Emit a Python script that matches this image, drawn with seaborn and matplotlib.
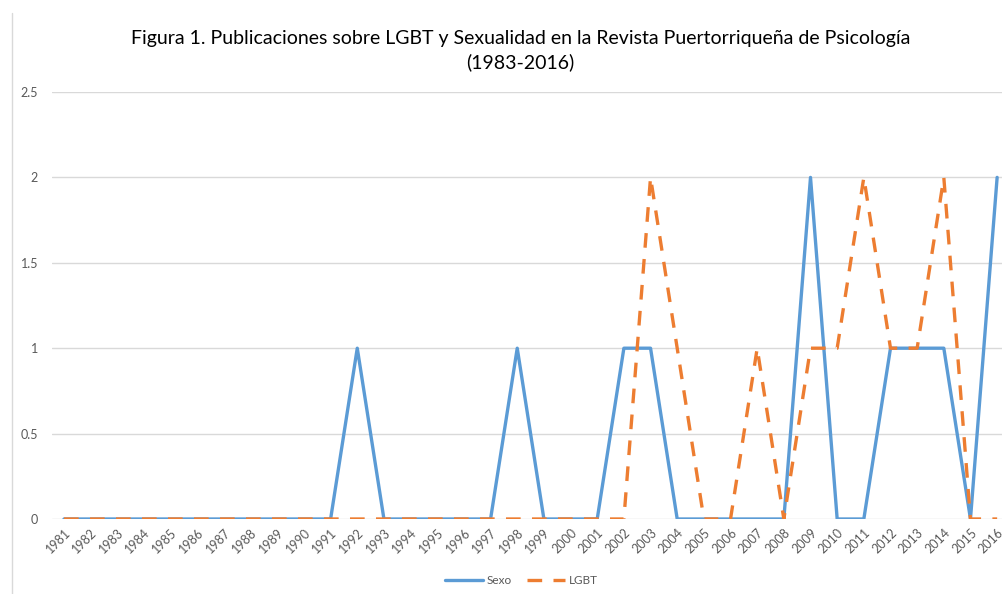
import pandas as pd
import seaborn as sns
import matplotlib.pyplot as plt
from matplotlib.lines import Line2D

sns.set_theme(style="white")
plt.rcParams["font.family"] = ["Lato", "DejaVu Sans"]

years = [str(y) for y in range(1981, 2017)]
sexo = [0, 0, 0, 0, 0, 0, 0, 0, 0, 0, 0, 1, 0, 0, 0, 0, 0, 1, 0, 0,
        0, 1, 1, 0, 0, 0, 0, 0, 2, 0, 0, 1, 1, 1, 0, 2]
lgbt = [0, 0, 0, 0, 0, 0, 0, 0, 0, 0, 0, 0, 0, 0, 0, 0, 0, 0, 0, 0,
        0, 0, 2, 1, 0, 0, 1, 0, 1, 1, 2, 1, 1, 2, 0, 0]

df = pd.DataFrame({"year": years, "Sexo": sexo, "LGBT": lgbt})
long = df.melt(id_vars="year", var_name="serie", value_name="n")
long["x"] = long.groupby("serie").cumcount()

blue = "#5B9BD5"
orange = "#ED7D31"
grey = "#595959"

fig = plt.figure(figsize=(10.03, 5.94), dpi=100)
ax = fig.add_axes([52 / 1003, 75 / 594, 951 / 1003, 427 / 594])

sns.lineplot(data=long, x="x", y="n", hue="serie", style="serie",
             palette={"Sexo": blue, "LGBT": orange},
             dashes={"Sexo": "", "LGBT": (4.4, 3.4)},
             linewidth=2.4, ax=ax, legend=False)

ax.set_xlim(-0.45, 35.22)
ax.set_ylim(0, 2.5)
ax.set_xticks(range(len(years)))
ax.set_xticklabels(years, rotation=45, ha="right", rotation_mode="anchor",
                   fontsize=9, color=grey)
ax.set_yticks([0, 0.5, 1, 1.5, 2, 2.5])
ax.set_yticklabels(["0", "0.5", "1", "1.5", "2", "2.5"], fontsize=9, color=grey)
ax.tick_params(axis="both", length=0)
ax.tick_params(axis="y", pad=10)
ax.tick_params(axis="x", pad=5)
ax.grid(axis="y", color="#D9D9D9", linewidth=1)
ax.set_axisbelow(True)
for s in ax.spines.values():
    s.set_visible(False)
ax.set_xlabel("")
ax.set_ylabel("")

fig.text(0.519, 0.936, "Figura 1. Publicaciones sobre LGBT y Sexualidad en la Revista Puertorriqueña de Psicología",
         ha="center", va="center", fontsize=14, color="#000000")
fig.text(0.519, 0.896, "(1983-2016)", ha="center", va="center", fontsize=14, color="#000000")

# left frame line of the chart area
fig.add_artist(Line2D([12 / 1003, 12 / 1003], [0, 581 / 594], color="#D9D9D9", linewidth=1))

handles = [Line2D([], [], color=blue, linewidth=2.4),
           Line2D([], [], color=orange, linewidth=2.4, dashes=(4.4, 3.4))]
fig.legend(handles, ["Sexo", "LGBT"], loc="center", bbox_to_anchor=(0.52, 0.023),
           ncol=2, frameon=False, fontsize=8.5, labelcolor=grey,
           handlelength=3.2, columnspacing=1.3, handletextpad=0.3)

fig.savefig("out.png", dpi=100)
